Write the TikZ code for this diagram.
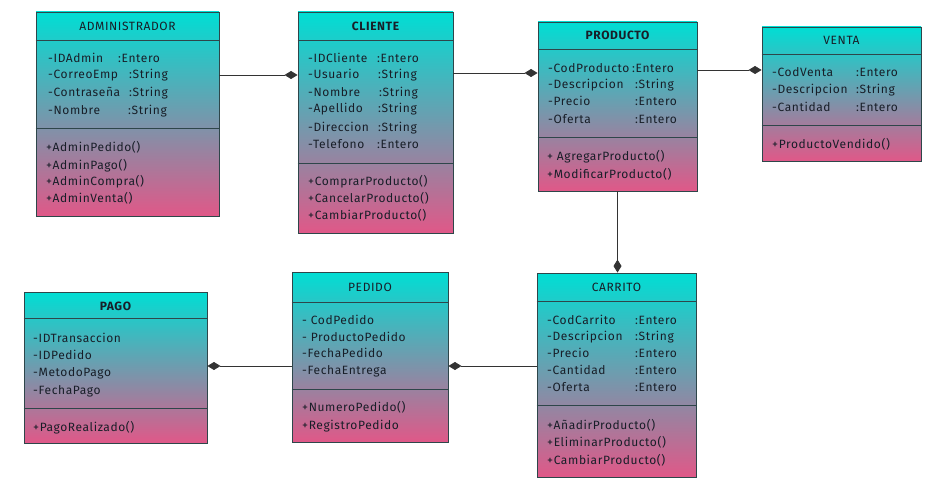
\documentclass[tikz,border=0pt]{standalone}
\usepackage{fontspec}
\setmainfont{Fira Sans}[LetterSpace=5]
\usetikzlibrary{arrows.meta}
\definecolor{topc}{RGB}{0,222,212}
\definecolor{botc}{RGB}{224,88,136}
\definecolor{edgec}{RGB}{46,70,74}
\definecolor{ink}{RGB}{24,30,40}
\tikzset{
 cls/.style={draw=edgec, line width=0.9pt, top color=topc, bottom color=botc, inner sep=0pt, rectangle},
 sepl/.style={draw=edgec, line width=0.9pt},
 txt/.style={anchor=base west, inner sep=0pt, text=ink, font=\fontsize{12}{14}\selectfont},
 ttl/.style={anchor=base, inner sep=0pt, text=ink, font=\fontsize{12}{14}\selectfont},
 bttl/.style={ttl, font=\fontsize{12}{14}\selectfont\bfseries},
 comp/.style={draw=black!80, line width=0.8pt, -{Diamond[length=13pt,width=8pt]}},
}
\begin{document}
\begin{tikzpicture}[x=1pt,y=-1pt]
\useasboundingbox (0,0) rectangle (933,492);
% boxes
\node[cls, minimum width=183pt, minimum height=204pt] (admin) at (127.5,114) {};
\node[cls, minimum width=155pt, minimum height=221pt] (cliente) at (375.5,122.5) {};
\node[cls, minimum width=159pt, minimum height=169pt] (producto) at (617.5,106.5) {};
\node[cls, minimum width=159pt, minimum height=134pt] (venta) at (841.5,94) {};
\node[cls, minimum width=183pt, minimum height=151pt] (pago) at (115.5,367.5) {};
\node[cls, minimum width=156pt, minimum height=170pt] (pedido) at (370,357) {};
\node[cls, minimum width=159pt, minimum height=204pt] (carrito) at (616.5,375) {};
% separators
\draw[sepl] (admin.west |- 0,40) -- (admin.east |- 0,40);
\draw[sepl] (admin.west |- 0,128) -- (admin.east |- 0,128);
\draw[sepl] (cliente.west |- 0,40) -- (cliente.east |- 0,40);
\draw[sepl] (cliente.west |- 0,163) -- (cliente.east |- 0,163);
\draw[sepl] (producto.west |- 0,49) -- (producto.east |- 0,49);
\draw[sepl] (producto.west |- 0,137) -- (producto.east |- 0,137);
\draw[sepl] (venta.west |- 0,54) -- (venta.east |- 0,54);
\draw[sepl] (venta.west |- 0,125) -- (venta.east |- 0,125);
\draw[sepl] (pago.west |- 0,318) -- (pago.east |- 0,318);
\draw[sepl] (pago.west |- 0,408) -- (pago.east |- 0,408);
\draw[sepl] (pedido.west |- 0,302) -- (pedido.east |- 0,302);
\draw[sepl] (pedido.west |- 0,389) -- (pedido.east |- 0,389);
\draw[sepl] (carrito.west |- 0,301) -- (carrito.east |- 0,301);
\draw[sepl] (carrito.west |- 0,405) -- (carrito.east |- 0,405);
% ADMINISTRADOR
\node[ttl] (adT) at (127.5,31) {ADMINISTRADOR};
\node[txt] (ad1) at (48,63) {-IDAdmin};
\node[txt] (ad1t) at (118,63) {:Entero};
\node[txt] (ad2) at (48,79) {-CorreoEmp};
\node[txt] (ad2t) at (129,79) {:String};
\node[txt] (ad3) at (48,97) {-Contraseña};
\node[txt] (ad3t) at (129,97) {:String};
\node[txt] (ad4) at (48,114) {-Nombre};
\node[txt] (ad4t) at (128,114) {:String};
\node[txt] (adm1) at (46,151) {+AdminPedido()};
\node[txt] (adm2) at (46,169) {+AdminPago()};
\node[txt] (adm3) at (46,185) {+AdminCompra()};
\node[txt] (adm4) at (46,202) {+AdminVenta()};
% CLIENTE
\node[bttl] (clT) at (375.5,31) {CLIENTE};
\node[txt] (cl1) at (308,63) {-IDCliente};
\node[txt] (cl1t) at (377,63) {:Entero};
\node[txt] (cl2) at (308,79) {-Usuario};
\node[txt] (cl2t) at (378,79) {:String};
\node[txt] (cl3) at (308,97) {-Nombre};
\node[txt] (cl3t) at (379,97) {:String};
\node[txt] (cl4) at (308,113) {-Apellido};
\node[txt] (cl4t) at (378,113) {:String};
\node[txt] (cl5) at (308,131) {-Direccion};
\node[txt] (cl5t) at (378,131) {:String};
\node[txt] (cl6) at (308,148) {-Telefono};
\node[txt] (cl6t) at (377,148) {:Entero};
\node[txt] (clm1) at (308,185) {+ComprarProducto()};
\node[txt] (clm2) at (308,202) {+CancelarProducto()};
\node[txt] (clm3) at (308,219) {+CambiarProducto()};
% PRODUCTO
\node[bttl] (prT) at (617.5,40) {PRODUCTO};
\node[txt] (pr1) at (548,73) {-CodProducto};
\node[txt] (pr1t) at (632,73) {:Entero};
\node[txt] (pr2) at (548,89) {-Descripcion};
\node[txt] (pr2t) at (635,89) {:String};
\node[txt] (pr3) at (548,106) {-Precio};
\node[txt] (pr3t) at (635,106) {:Entero};
\node[txt] (pr4) at (548,123) {-Oferta};
\node[txt] (pr4t) at (635,123) {:Entero};
\node[txt] (prm1) at (547,160) {+ AgregarProducto()};
\node[txt] (prm2) at (547,178) {+ModificarProducto()};
% VENTA
\node[ttl] (veT) at (841.5,45) {VENTA};
\node[txt] (ve1) at (772,77) {-CodVenta};
\node[txt] (ve1t) at (856,77) {:Entero};
\node[txt] (ve2) at (772,94) {-Descripcion};
\node[txt] (ve2t) at (856,94) {:String};
\node[txt] (ve3) at (772,111) {-Cantidad};
\node[txt] (ve3t) at (856,111) {:Entero};
\node[txt] (vem1) at (772,148) {+ProductoVendido()};
% PAGO
\node[bttl] (paT) at (115.5,310) {PAGO};
\node[txt] (pa1) at (33,342) {-IDTransaccion};
\node[txt] (pa2) at (33,359) {-IDPedido};
\node[txt] (pa3) at (33,376) {-MetodoPago};
\node[txt] (pa4) at (33,394) {-FechaPago};
\node[txt] (pam1) at (33,431) {+PagoRealizado()};
% PEDIDO
\node[ttl] (peT) at (370,291) {PEDIDO};
\node[txt] (pe1) at (302,324) {- CodPedido};
\node[txt] (pe2) at (302,341) {- ProductoPedido};
\node[txt] (pe3) at (302,357) {-FechaPedido};
\node[txt] (pe4) at (302,374) {-FechaEntrega};
\node[txt] (pem1) at (302,411) {+NumeroPedido()};
\node[txt] (pem2) at (302,429) {+RegistroPedido};
% CARRITO
\node[ttl] (caT) at (616.5,291) {CARRITO};
\node[txt] (ca1) at (547,324) {-CodCarrito};
\node[txt] (ca1t) at (635,324) {:Entero};
\node[txt] (ca2) at (547,340) {-Descripcion};
\node[txt] (ca2t) at (635,340) {:String};
\node[txt] (ca3) at (547,357) {-Precio};
\node[txt] (ca3t) at (635,357) {:Entero};
\node[txt] (ca4) at (547,374) {-Cantidad};
\node[txt] (ca4t) at (635,374) {:Entero};
\node[txt] (ca5) at (547,391) {-Oferta};
\node[txt] (ca5t) at (635,391) {:Entero};
\node[txt] (cam1) at (547,429) {+AñadirProducto()};
\node[txt] (cam2) at (547,446) {+EliminarProducto()};
\node[txt] (cam3) at (547,464) {+CambiarProducto()};
% connectors
\draw[comp] (admin.east |- 0,75) -- (cliente.west |- 0,75);
\draw[comp] (cliente.east |- 0,73) -- (producto.west |- 0,73);
\draw[comp] (producto.east |- 0,70) -- (venta.west |- 0,70);
\draw[comp] (producto.south) -- (producto.south |- carrito.north);
\draw[comp] (carrito.west |- 0,366) -- (pedido.east |- 0,366);
\draw[comp] (pedido.west |- 0,366) -- (pago.east |- 0,366);
\end{tikzpicture}
\end{document}
